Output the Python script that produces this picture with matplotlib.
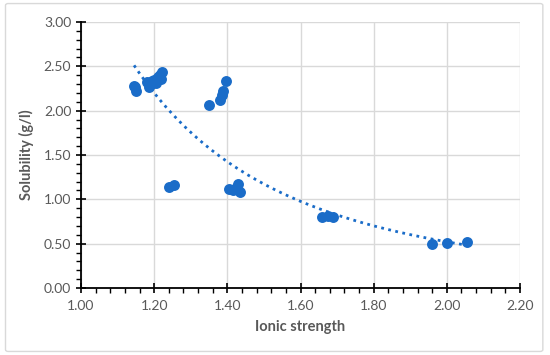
import numpy as np
import matplotlib
matplotlib.use("Agg")
import matplotlib.pyplot as plt
from matplotlib.patches import FancyBboxPatch
from matplotlib.ticker import MultipleLocator, FormatStrFormatter

# measured points (ionic strength, solubility g/l)
ionic = [1.145, 1.15, 1.148, 1.18, 1.185, 1.19, 1.195, 1.20, 1.205, 1.21, 1.215, 1.22, 1.218,
         1.35, 1.38, 1.385, 1.388, 1.395,
         1.24, 1.255,
         1.405, 1.415, 1.425, 1.43, 1.435,
         1.66, 1.675, 1.69,
         1.96, 2.00, 2.055]
solub = [2.28, 2.22, 2.27, 2.32, 2.27, 2.30, 2.33, 2.35, 2.31, 2.38, 2.40, 2.44, 2.36,
         2.06, 2.12, 2.18, 2.22, 2.33,
         1.14, 1.16,
         1.12, 1.11, 1.13, 1.17, 1.08,
         0.80, 0.81, 0.80,
         0.50, 0.51, 0.52]

blue = "#1a6cc8"
grey = "#595959"

plt.rcParams['font.family'] = ['Lato', 'DejaVu Sans']
fig = plt.figure(figsize=(5.5, 3.55), dpi=100)
ax = fig.add_axes([0.1473, 0.1887, 0.7982, 0.7493])

# chart border
fig.patches.append(FancyBboxPatch((0.01, 0.01), 0.977, 0.98, boxstyle="round,pad=0,rounding_size=0.005",
                                  transform=fig.transFigure, fill=False, edgecolor="#d9d9d9", linewidth=1))

# power trendline fitted in log space
x = np.array(ionic)
y = np.array(solub)
b, lna = np.polyfit(np.log(x), np.log(y), 1)
xt = np.linspace(x.min(), x.max(), 200)
ax.plot(xt, np.exp(lna) * xt ** b, linestyle=(0, (1, 1.6)), color=blue, linewidth=2, zorder=2)

ax.scatter(ionic, solub, s=62, color=blue, zorder=3, linewidths=0)

ax.set_xlim(1.0, 2.2)
ax.set_ylim(0, 3.0)
ax.xaxis.set_major_locator(MultipleLocator(0.2))
ax.xaxis.set_minor_locator(MultipleLocator(0.04))
ax.yaxis.set_major_locator(MultipleLocator(0.5))
ax.yaxis.set_minor_locator(MultipleLocator(0.1))
ax.xaxis.set_major_formatter(FormatStrFormatter('%.2f'))
ax.yaxis.set_major_formatter(FormatStrFormatter('%.2f'))

ax.grid(True, which='major', color='#d9d9d9', linewidth=1)
ax.set_axisbelow(True)
for s in ['top', 'right']:
    ax.spines[s].set_visible(False)
for s in ['left', 'bottom']:
    ax.spines[s].set_color('black')
    ax.spines[s].set_linewidth(1.3)

ax.tick_params(which='major', direction='inout', length=7, width=1.2, color='black',
               labelsize=10, labelcolor=grey)
ax.tick_params(which='minor', direction='out', length=3.5, width=1, color='black')
ax.tick_params(axis='x', pad=5)

ax.set_xlabel('Ionic strength', fontsize=10.5, fontweight='bold', color=grey, labelpad=6)
ax.set_ylabel('Solubility (g/l)', fontsize=10.5, fontweight='bold', color=grey, labelpad=7)

fig.savefig('out.png', dpi=100)
